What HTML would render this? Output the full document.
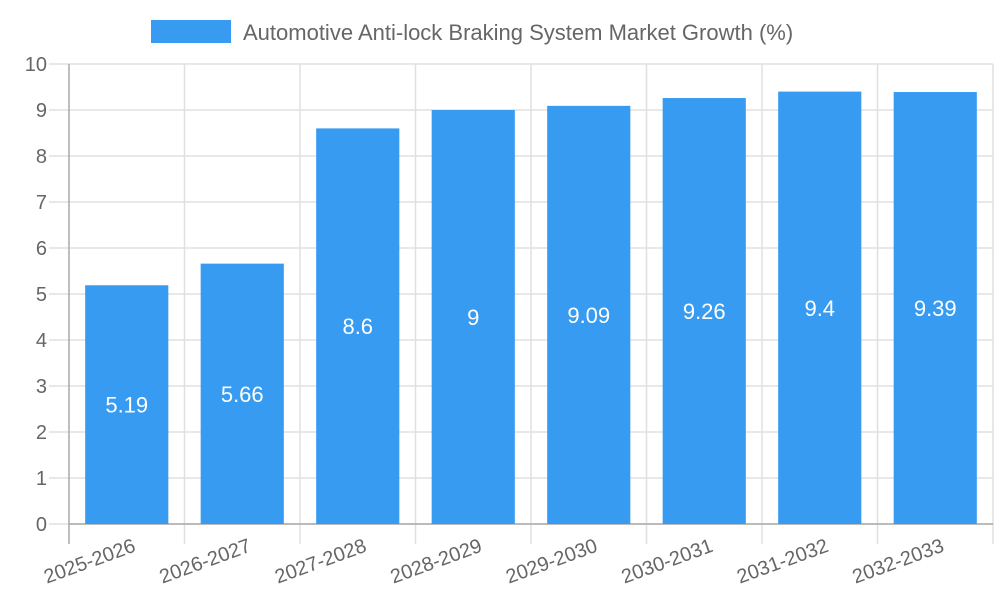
<!DOCTYPE html>
<html><head><meta charset="utf-8"><style>
body{margin:0;background:#fff;}
svg{display:block;font-family:"Liberation Sans",sans-serif;}
</style></head><body>
<svg id="chart" width="1000" height="600"></svg>
<script>
const categories=["2025-2026","2026-2027","2027-2028","2028-2029","2029-2030","2030-2031","2031-2032","2032-2033"];
const growthValues=[5.19,5.66,8.6,9,9.09,9.26,9.4,9.39];
const yTickLabels=[0,1,2,3,4,5,6,7,8,9,10];
const NS="http://www.w3.org/2000/svg";
const svg=document.getElementById('chart');
const L=69,R=993,T=64,B=524,yMax=10;
const band=(R-L)/categories.length;
const xs=i=>L+band*i;
const ys=v=>B-(v/yMax)*(B-T);
function mk(tag,attrs,parent){const e=document.createElementNS(NS,tag);for(const k in attrs)e.setAttribute(k,attrs[k]);(parent||svg).appendChild(e);return e;}
// legend
const lg=mk('g',{});


mk('rect',{x:151,y:20,width:80,height:23,fill:'#379bf1'},lg);
const lt=mk('text',{x:243,y:40,'font-size':22,fill:'#666'},lg);
lt.textContent='Automotive Anti-lock Braking System Market Growth (%)';
// y grid + ticks
yTickLabels.forEach(v=>{
  const y=ys(v);
  const g=mk('line',{x1:49,x2:R,y1:y,y2:y,stroke:'#e0e0e0','stroke-width':1.5});
  
  
  const t=mk('text',{x:47,y:y+7,'font-size':20,fill:'#666','text-anchor':'end'});
  
  
  t.textContent=v;
});
// x grid
for(let i=0;i<=categories.length;i++){
  const x=xs(i);
  const g=mk('line',{x1:x,x2:x,y1:T,y2:544,stroke:i===0?'#aaa':'#e0e0e0','stroke-width':1.5});
  
  
}
const xa=mk('line',{x1:L,x2:R,y1:B,y2:B,stroke:'#aaa','stroke-width':1.5});


// bars
categories.forEach((c,i)=>{
  const v=growthValues[i];
  const bw=band*0.72;
  const x=xs(i)+(band-bw)/2;
  const r=mk('rect',{x:x,y:ys(v),width:bw,height:B-ys(v),fill:'#379bf1'});
  
  
  const t=mk('text',{x:x+bw/2,y:(ys(v)+B)/2+8,'font-size':22,fill:'#fff','text-anchor':'middle'});
  
  
  t.textContent=v;
  const cx=xs(i)+band/2+10;
  const xl=mk('text',{x:0,y:0,'font-size':20,fill:'#666','text-anchor':'end',transform:`translate(${cx},${551}) rotate(-20)`});
  
  
  xl.textContent=c;
});
</script>
</body></html>
